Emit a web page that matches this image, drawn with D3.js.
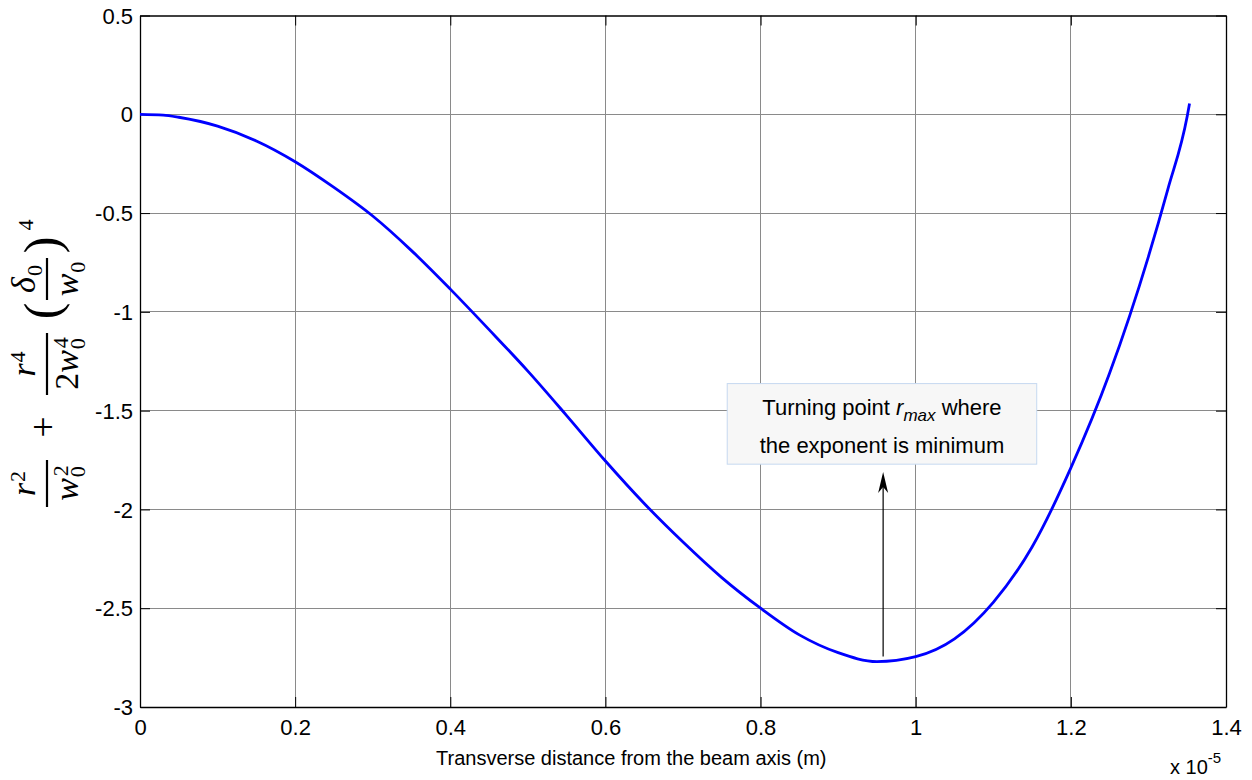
<!DOCTYPE html>
<html>
<head>
<meta charset="utf-8">
<script src="https://cdn.jsdelivr.net/npm/d3@7/dist/d3.min.js"></script>
<style>
  html, body { margin: 0; padding: 0; background: #ffffff; }
  svg { display: block; }
</style>
</head>
<body>
<script>
// ---------------- data ----------------
const xTicks = [0, 0.2, 0.4, 0.6, 0.8, 1.0, 1.2, 1.4];
const xTickLabels = ["0", "0.2", "0.4", "0.6", "0.8", "1", "1.2", "1.4"];
const yTicks = [0.5, 0, -0.5, -1, -1.5, -2, -2.5, -3];
const yTickLabels = ["0.5", "0", "-0.5", "-1", "-1.5", "-2", "-2.5", "-3"];

// transverse distance (x 1e-5 m)
const rValues = [0, 0.03, 0.05, 0.1, 0.15, 0.2, 0.25, 0.3, 0.35, 0.4, 0.45, 0.5,
  0.55, 0.6, 0.65, 0.7, 0.75, 0.8, 0.85, 0.9, 0.95, 1.0, 1.05, 1.1,
  1.15, 1.2, 1.25, 1.3, 1.325, 1.35, 1.353];
// exponent value
const exponentValues = [0, -0.004, -0.015, -0.06, -0.135, -0.24, -0.37, -0.515, -0.69, -0.885, -1.09, -1.30,
  -1.525, -1.755, -1.97, -2.165, -2.345, -2.50, -2.635, -2.725, -2.77, -2.745, -2.655, -2.47,
  -2.19, -1.79, -1.31, -0.72, -0.38, -0.01, 0.055];

const xAxisTitle = "Transverse distance from the beam axis (m)";
const annotationLine1 = ["Turning point ", "r", "max", " where"];
const annotationLine2 = "the exponent is minimum";
// annotation anchor in data units
const arrowX = 0.958, arrowFromY = -2.744, arrowToY = -1.81;
const boxX0 = 0.757, boxX1 = 1.156, boxY0 = -1.363, boxY1 = -1.771;

// ---------------- chart ----------------
const W = 1252, H = 780;
const svg = d3.select("body").append("svg").attr("width", W).attr("height", H);
svg.append("rect").attr("width", W).attr("height", H).attr("fill", "#ffffff");

const x = d3.scaleLinear().domain([0, 1.4]).range([140, 1226]);
const y = d3.scaleLinear().domain([-3, 0.5]).range([707, 15.5]);
const sans = "'Liberation Sans', Arial, Helvetica, sans-serif";
const serif = "'Liberation Serif', 'Times New Roman', serif";

// grid
const grid = svg.append("g").attr("stroke", "#8a8a8a").attr("stroke-width", 1).attr("shape-rendering", "crispEdges");
xTicks.slice(1, -1).forEach(t => grid.append("line").attr("x1", x(t)).attr("x2", x(t)).attr("y1", y(0.5)).attr("y2", y(-3)));
yTicks.slice(1, -1).forEach(t => grid.append("line").attr("y1", y(t)).attr("y2", y(t)).attr("x1", x(0)).attr("x2", x(1.4)));

// axes with d3 (inward ticks)
const tickLen = 10;
const xb = svg.append("g").attr("transform", `translate(0,${y(-3)})`)
  .call(d3.axisBottom(x).tickValues(xTicks).tickFormat((d, i) => xTickLabels[i]).tickSizeInner(-tickLen).tickSizeOuter(0).tickPadding(12));
const xt = svg.append("g").attr("transform", `translate(0,${y(0.5)})`)
  .call(d3.axisTop(x).tickValues(xTicks).tickFormat("").tickSizeInner(-tickLen).tickSizeOuter(0));
const yl = svg.append("g").attr("transform", `translate(${x(0)},0)`)
  .call(d3.axisLeft(y).tickValues(yTicks).tickFormat((d, i) => yTickLabels[i]).tickSizeInner(-tickLen).tickSizeOuter(0).tickPadding(7));
const yr = svg.append("g").attr("transform", `translate(${x(1.4)},0)`)
  .call(d3.axisRight(y).tickValues(yTicks).tickFormat("").tickSizeInner(-tickLen).tickSizeOuter(0));
[xb, xt, yl, yr].forEach(g => {
  g.attr("font-size", null).attr("font-family", null);
  g.select(".domain").attr("stroke", "#000").attr("stroke-width", 1.3);
  g.selectAll(".tick line").attr("stroke", "#000").attr("stroke-width", 1);
  g.selectAll("text").style("font-family", sans).style("font-size", "22px").attr("fill", "#000");
});
yl.selectAll("text").attr("dy", "0.35em");
xb.selectAll("text").attr("dy", "0.71em");

// curve
svg.append("path")
  .datum(rValues.map((r, i) => [r, exponentValues[i]]))
  .attr("fill", "none").attr("stroke", "#0000ff").attr("stroke-width", 2.8)
  .attr("stroke-linejoin", "round")
  .attr("d", d3.line().x(d => x(d[0])).y(d => y(d[1])).curve(d3.curveMonotoneX));

// annotation box
svg.append("rect")
  .attr("x", x(boxX0)).attr("y", y(boxY0))
  .attr("width", x(boxX1) - x(boxX0)).attr("height", y(boxY1) - y(boxY0))
  .attr("fill", "#f7f7f7").attr("stroke", "#c6d9f0").attr("stroke-width", 1);
const cx = (x(boxX0) + x(boxX1)) / 2;
const t1 = svg.append("text").attr("x", cx).attr("y", y(boxY0) + 31).attr("text-anchor", "middle")
  .attr("font-family", sans).attr("font-size", 22).attr("fill", "#000");
t1.append("tspan").text(annotationLine1[0]);
t1.append("tspan").attr("font-style", "italic").text(annotationLine1[1]);
t1.append("tspan").attr("font-style", "italic").attr("font-size", 17).attr("dy", 6).text(annotationLine1[2]);
t1.append("tspan").attr("dy", -6).text(annotationLine1[3]);
svg.append("text").attr("x", cx).attr("y", y(boxY0) + 69).attr("text-anchor", "middle")
  .attr("font-family", sans).attr("font-size", 22).attr("fill", "#000").text(annotationLine2);

// arrow
const ax = x(arrowX), ayFrom = y(arrowFromY), ayTo = y(arrowToY);
svg.append("line").attr("x1", ax).attr("x2", ax).attr("y1", ayFrom).attr("y2", ayTo + 12)
  .attr("stroke", "#000").attr("stroke-width", 1.2);
svg.append("path")
  .attr("d", `M${ax},${ayTo} L${ax - 5},${ayTo + 21} L${ax},${ayTo + 15} L${ax + 5},${ayTo + 21} Z`)
  .attr("fill", "#000");

// x axis title + exponent
svg.append("text").attr("x", 436).attr("y", 765).attr("font-family", sans).attr("font-size", 20)
  .attr("fill", "#000").text(xAxisTitle);
const ex = svg.append("text").attr("x", 1170).attr("y", 774).attr("font-family", sans).attr("font-size", 20).attr("fill", "#000");
ex.append("tspan").text("x 10");
ex.append("tspan").attr("font-size", 15).attr("dy", -11).text("-5");

// ---------------- y axis math label ----------------
const lab = svg.append("g").attr("transform", "rotate(-90)");
const FS = 34, SS = 22;
const barV = 47;
// row: list of {b: base, it: italic, sub, sup}
function mathRow(items, cu, baseline) {
  const g = lab.append("g");
  let pos = 0;
  items.forEach(it => {
    const tb = g.append("text").attr("x", pos).attr("y", 0).attr("font-family", serif)
      .attr("font-size", FS).attr("font-style", it.it ? "italic" : "normal").text(it.b);
    pos += tb.node().getComputedTextLength() + (it.it ? 1 : 0);
    let w = 0;
    if (it.sub) {
      const ts = g.append("text").attr("x", pos).attr("y", 7).attr("font-family", serif)
        .attr("font-size", SS).text(it.sub);
      w = Math.max(w, ts.node().getComputedTextLength());
    }
    if (it.sup) {
      const tp = g.append("text").attr("x", pos + (it.sub ? 1 : 0)).attr("y", -10).attr("font-family", serif)
        .attr("font-size", SS).text(it.sup);
      w = Math.max(w, tp.node().getComputedTextLength());
    }
    pos += w;
  });
  g.attr("transform", `translate(${cu - pos / 2},${baseline})`);
}
function frac(u0, u1, num, den) {
  lab.append("line").attr("x1", u0).attr("x2", u1).attr("y1", barV).attr("y2", barV)
    .attr("stroke", "#000").attr("stroke-width", 2.2);
  const c = (u0 + u1) / 2;
  mathRow(num, c, barV - 12);
  mathRow(den, c, barV + 31);
}
frac(-507, -460, [{ b: "r", it: true, sup: "2" }], [{ b: "w", it: true, sub: "0", sup: "2" }]);
lab.append("text").attr("x", -427).attr("y", barV + 0.25 * FS).attr("text-anchor", "middle")
  .attr("font-family", serif).attr("font-size", FS + 4).text("+");
frac(-395, -333, [{ b: "r", it: true, sup: "4" }], [{ b: "2", it: false }, { b: "w", it: true, sub: "0", sup: "4" }]);
lab.append("text").attr("x", -311).attr("y", barV + 0.235 * 50).attr("text-anchor", "middle")
  .attr("font-family", serif).attr("font-size", 50).text("(");
frac(-300, -258, [{ b: "δ", it: true, sub: "0" }], [{ b: "w", it: true, sub: "0" }]);
lab.append("text").attr("x", -245).attr("y", barV + 0.235 * 50).attr("text-anchor", "middle")
  .attr("font-family", serif).attr("font-size", 50).text(")");
lab.append("text").attr("x", -225).attr("y", 33).attr("text-anchor", "middle")
  .attr("font-family", serif).attr("font-size", SS).text("4");
</script>
</body>
</html>
